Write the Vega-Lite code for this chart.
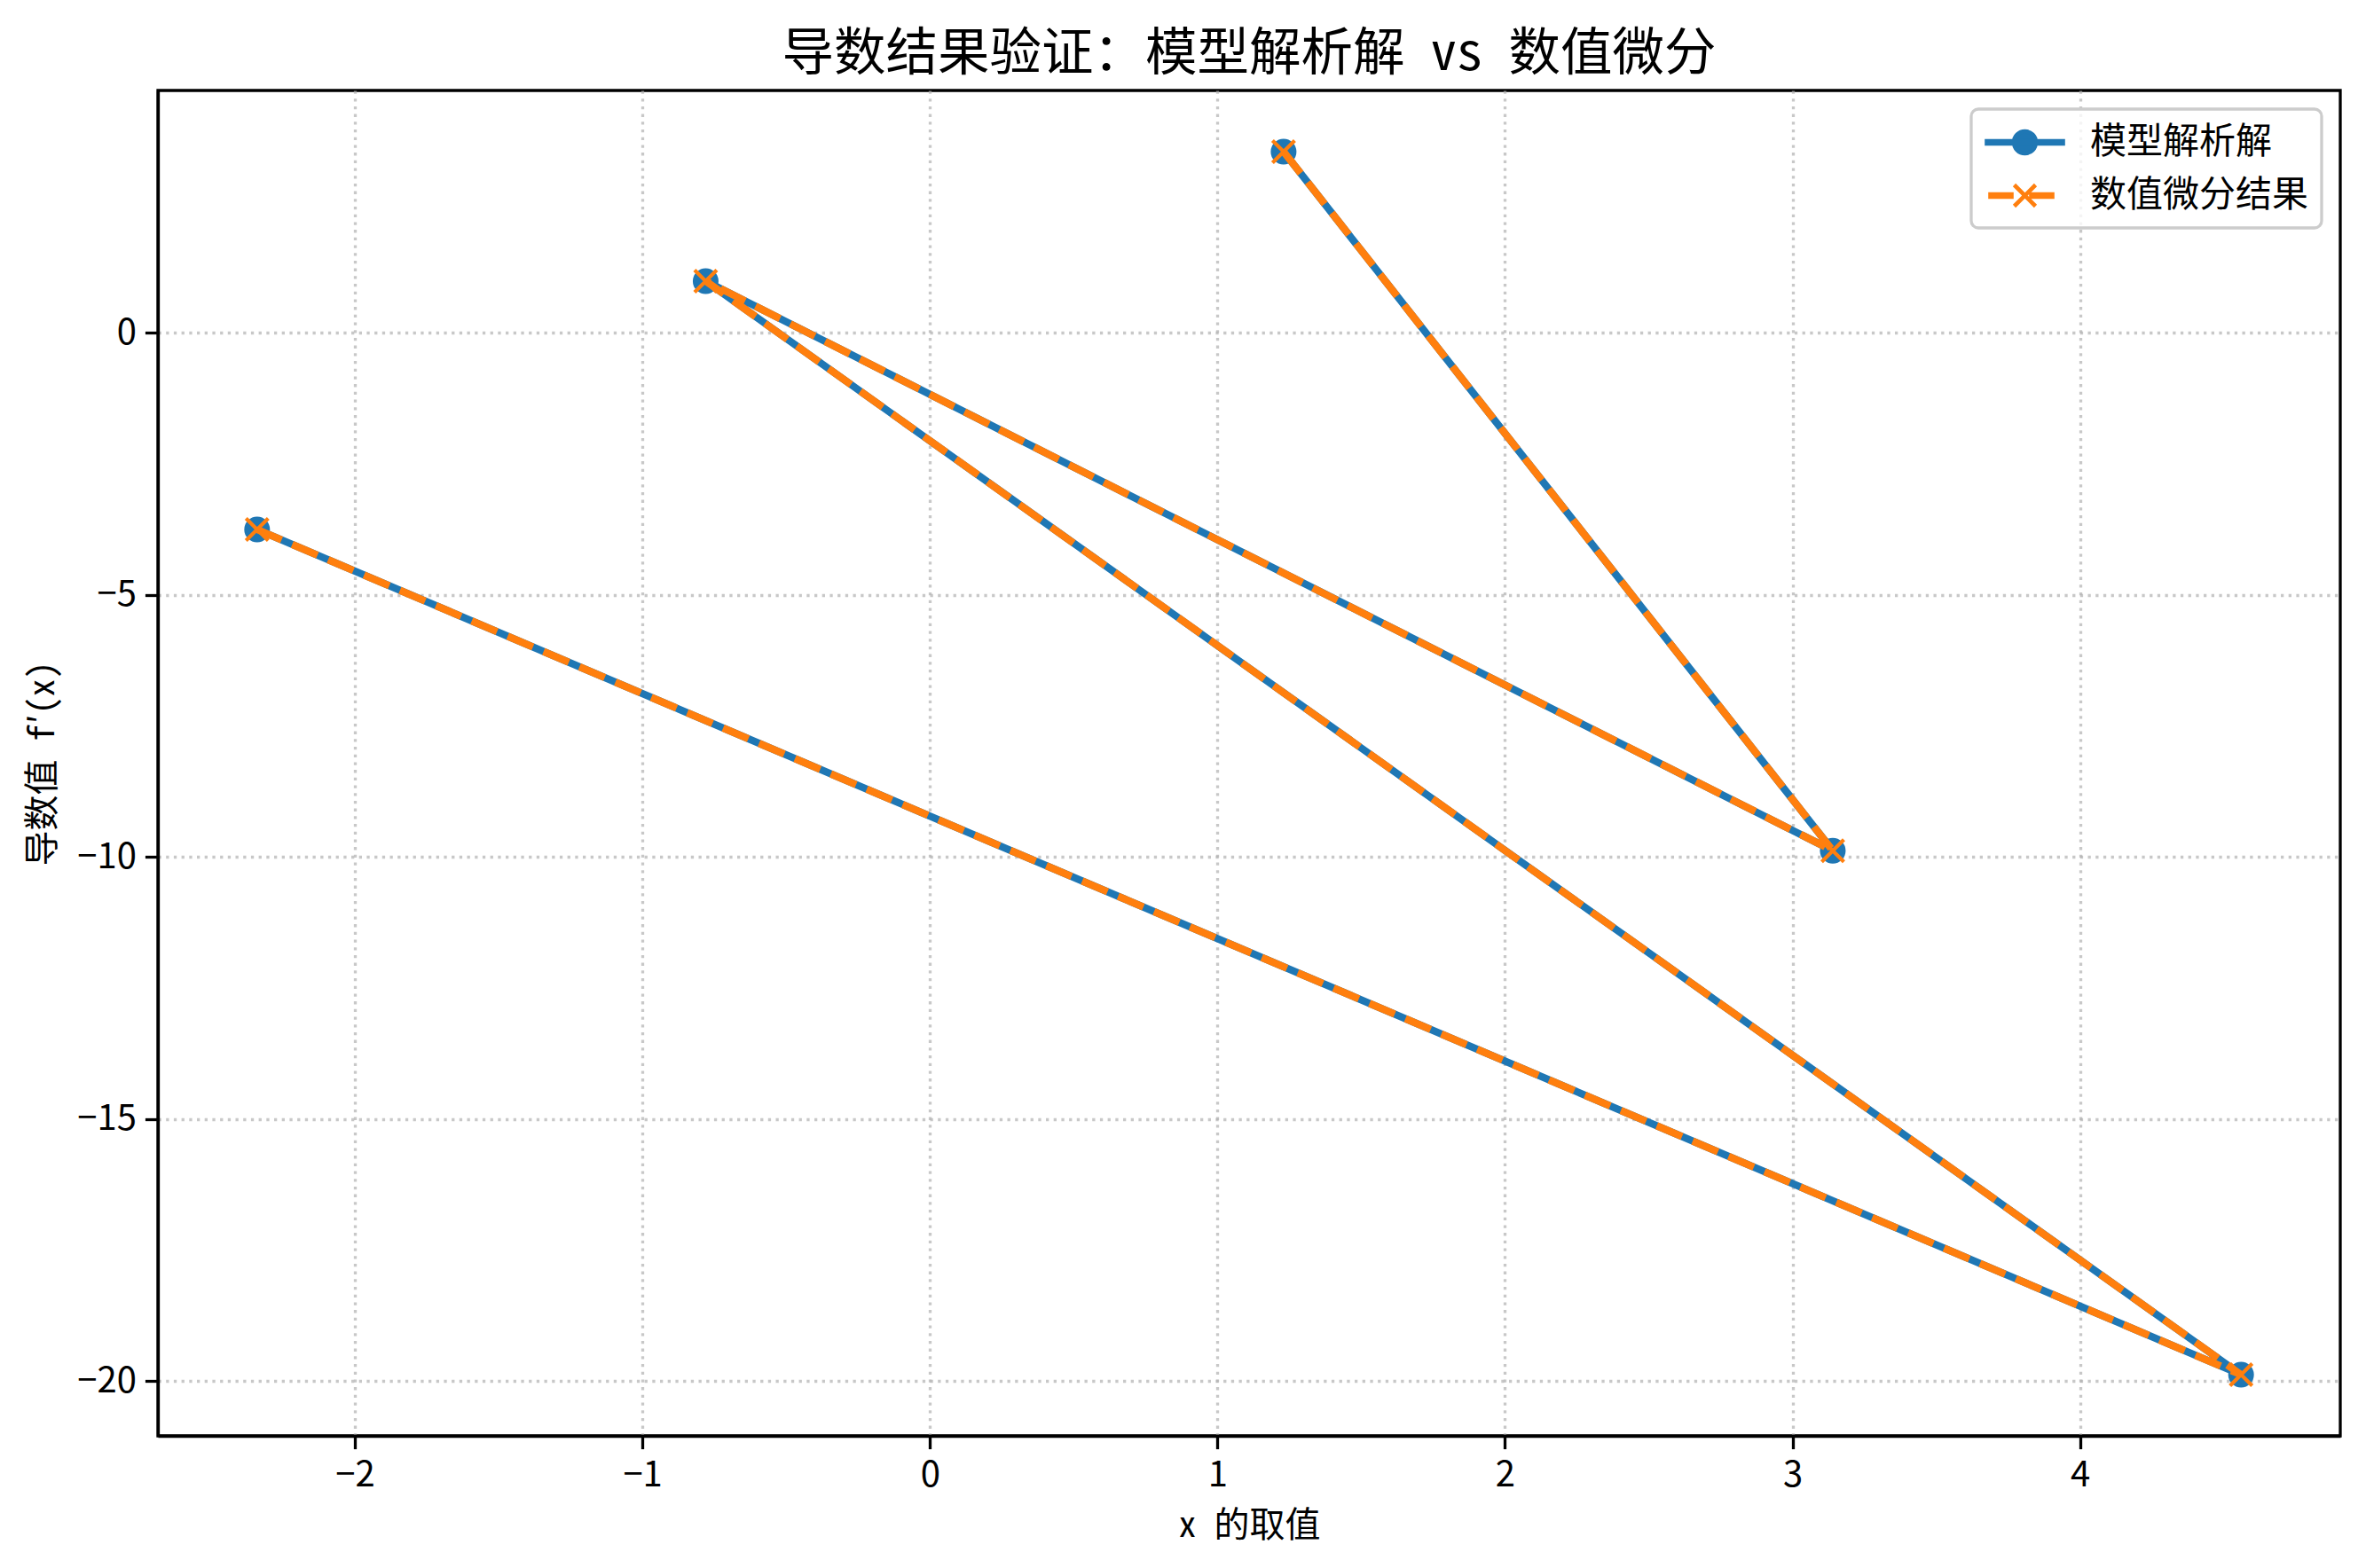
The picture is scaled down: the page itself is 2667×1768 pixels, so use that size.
{
  "$schema": "https://vega.github.io/schema/vega-lite/v6.json",
  "autosize": "none",
  "width": 2460,
  "height": 1517,
  "padding": {"left": 178, "top": 102, "right": 29, "bottom": 149},
  "background": "white",
  "config": {
    "font": "Noto Sans CJK SC",
    "view": {"stroke": "black", "strokeWidth": 3.3},
    "axis": {
      "labelFont": "Noto Sans CJK SC",
      "titleFont": "'Noto Sans Mono CJK SC', 'Noto Sans CJK SC'",
      "labelFontSize": 40,
      "titleFontSize": 40,
      "labelColor": "black",
      "titleColor": "black",
      "titleFontWeight": "normal",
      "domainColor": "black",
      "domainWidth": 3.3,
      "tickColor": "black",
      "tickWidth": 3.3,
      "tickSize": 14.6,
      "labelPadding": 10,
      "grid": true,
      "gridColor": "#b0b0b0",
      "gridOpacity": 0.7,
      "gridWidth": 3.3,
      "gridDash": [3.3, 5.4]
    }
  },
  "title": {
    "text": "导数结果验证：模型解析解 vs 数值微分",
    "font": "'Noto Sans Mono CJK SC', 'Noto Sans CJK SC'",
    "fontSize": 58.5,
    "fontWeight": "normal",
    "color": "black",
    "offset": 11
  },
  "data": {
    "values": [
      {"series": "模型解析解", "idx": 0, "x": 1.23, "y": 3.46},
      {"series": "模型解析解", "idx": 1, "x": 3.14, "y": -9.88},
      {"series": "模型解析解", "idx": 2, "x": -0.78, "y": 0.99},
      {"series": "模型解析解", "idx": 3, "x": 4.56, "y": -19.88},
      {"series": "模型解析解", "idx": 4, "x": -2.34, "y": -3.75},
      {"series": "数值微分结果", "idx": 0, "x": 1.23, "y": 3.46},
      {"series": "数值微分结果", "idx": 1, "x": 3.14, "y": -9.88},
      {"series": "数值微分结果", "idx": 2, "x": -0.78, "y": 0.99},
      {"series": "数值微分结果", "idx": 3, "x": 4.56, "y": -19.88},
      {"series": "数值微分结果", "idx": 4, "x": -2.34, "y": -3.75}
    ]
  },
  "encoding": {
    "x": {
      "field": "x", "type": "quantitative",
      "scale": {"domain": [-2.685, 4.905], "nice": false, "zero": false},
      "axis": {"values": [-2, -1, 0, 1, 2, 3, 4], "title": "x 的取值", "titlePadding": 17}
    },
    "y": {
      "field": "y", "type": "quantitative",
      "scale": {"domain": [-21.047, 4.627], "nice": false, "zero": false},
      "axis": {"values": [-20, -15, -10, -5, 0], "title": "导数值 f′(x)", "titlePadding": 18}
    },
    "order": {"field": "idx", "type": "quantitative"},
    "color": {
      "field": "series", "type": "nominal",
      "scale": {"domain": ["模型解析解", "数值微分结果"], "range": ["#1f77b4", "#ff7f0e"]},
      "legend": {
        "title": null,
        "orient": "top-right",
        "offset": 21,
        "padding": 15,
        "fillColor": "rgba(255,255,255,0.8)",
        "strokeColor": "#cccccc",
        "cornerRadius": 8,
        "symbolSize": 1600,
        "symbolOffset": 23,
        "labelOffset": 51,
        "labelFont": "Noto Sans CJK SC",
        "labelFontSize": 41,
        "labelColor": "black",
        "rowPadding": 15,
        "labelLimit": 600,
        "encode": {
          "legend": {"update": {"strokeWidth": {"value": 3.3}}},
          "symbols": {
            "update": {
              "shape": {"signal": "datum.value === '模型解析解' ? 'M-2.15,-0.075L2.15,-0.075L2.15,0.075L-2.15,0.075Z M-0.62,0 A0.62,0.62 0 1,0 0.62,0 A0.62,0.62 0 1,0 -0.62,0Z' : 'M-1.95,-0.075L-0.75,-0.075L-0.75,0.075L-1.95,0.075Z M0.35,-0.075L1.55,-0.075L1.55,0.075L0.35,0.075Z M-0.6,-0.6L0.6,0.6 M-0.6,0.6L0.6,-0.6'"},
              "fill": {"signal": "datum.value === '模型解析解' ? '#1f77b4' : '#ff7f0e'"},
              "stroke": {"signal": "datum.value === '模型解析解' ? '#1f77b4' : '#ff7f0e'"},
              "strokeWidth": {"value": 4.6},
              "opacity": {"value": 1},
              "fillOpacity": {"value": 1},
              "strokeOpacity": {"value": 1}
            }
          }
        }
      }
    }
  },
  "layer": [
    {
      "transform": [{"filter": "datum.series === '模型解析解'"}],
      "mark": {"type": "line", "strokeWidth": 8.3, "strokeCap": "butt"}
    },
    {
      "transform": [{"filter": "datum.series === '模型解析解'"}],
      "mark": {"type": "point", "shape": "circle", "filled": true, "size": 841, "opacity": 1}
    },
    {
      "transform": [{"filter": "datum.series === '数值微分结果'"}],
      "mark": {"type": "line", "strokeWidth": 8.3, "strokeDash": [31, 13], "strokeCap": "butt"}
    },
    {
      "transform": [{"filter": "datum.series === '数值微分结果'"}],
      "mark": {"type": "point", "shape": "M-1,-1L1,1M-1,1L1,-1", "filled": false, "size": 625, "strokeWidth": 4.2, "opacity": 1}
    }
  ]
}
